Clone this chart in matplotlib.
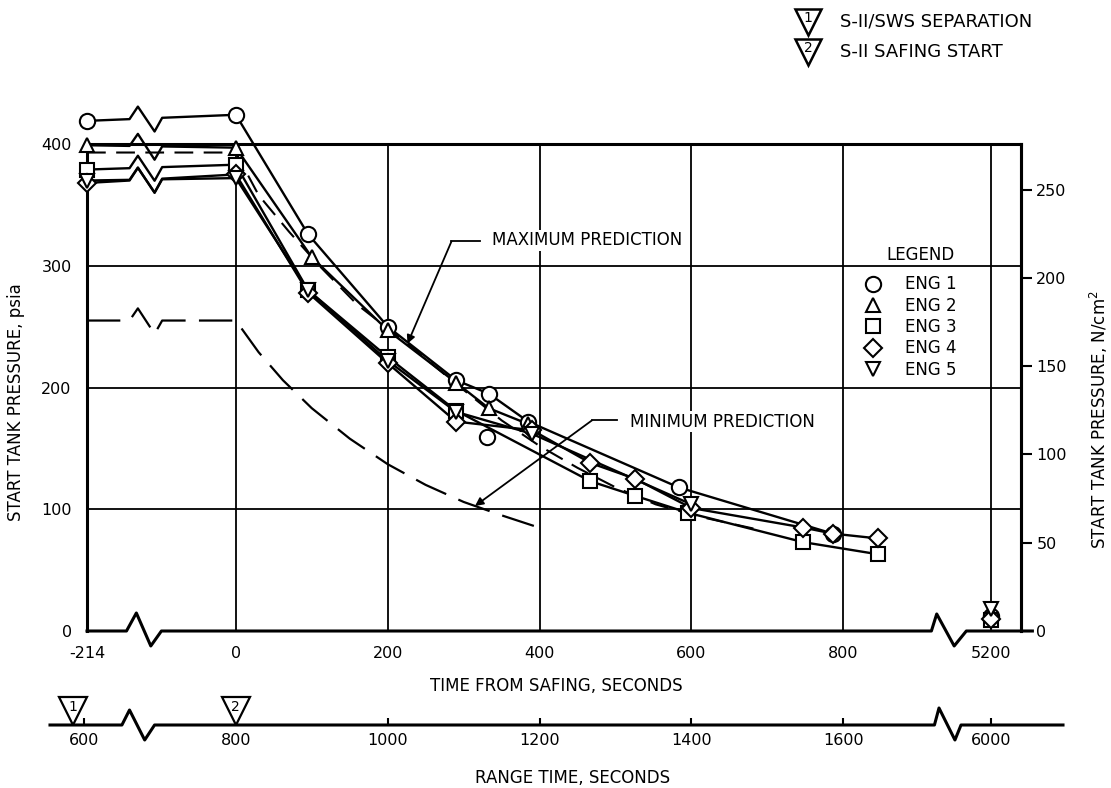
import numpy as np
import matplotlib
matplotlib.use('Agg')
import matplotlib.pyplot as plt
from matplotlib.lines import Line2D

# start tank pressure (psia) vs time from safing (s)
eng1_t = [-214, 0, 95, 200, 290, 333, 385, 583, 786]
eng1_p = [419, 424, 326, 250, 206, 195, 172, 118, 80]
eng2_t = [-214, 0, 100, 200, 290, 333, 385]
eng2_p = [399, 397, 307, 247, 204, 183, 170]
eng3_t = [-214, 0, 95, 200, 290, 467, 526, 596, 747, 846]
eng3_p = [379, 383, 280, 225, 181, 123, 111, 97, 73, 63]
eng4_t = [-214, 0, 95, 200, 290, 390, 467, 526, 600, 747, 786, 846]
eng4_p = [368, 375, 278, 220, 172, 165, 138, 125, 101, 85, 80, 76]
eng5_t = [-214, 0, 95, 200, 290, 390, 600]
eng5_p = [370, 372, 280, 222, 180, 162, 104]
# stray ENG 1 reading below the faired curve
eng1_extra_t = [331]
eng1_extra_p = [159]
# readings at T+5200 s (ENG 1..5)
late_t = 5200
late_p = [12, 15, 9, 10, 18]

# predictions
max_t = [-214, 0, 30, 70, 110, 160, 226, 290, 350, 400, 450, 500, 553, 610, 690]
max_p = [393, 393, 358, 328, 300, 268, 236, 203, 173, 152, 134, 118, 104, 94, 83]
min_t = [-214, 0, 30, 62, 100, 150, 200, 250, 300, 350, 394]
min_p = [255, 255, 229, 206, 183, 158, 137, 120, 106, 95, 86]

x_ticks = [-214, 0, 200, 400, 600, 800, 5200]
range_ticks = [600, 800, 1000, 1200, 1400, 1600, 6000]
sep_range = 586      # S-II/SWS separation, range time
safing_range = 800   # S-II safing start, range time
psia_per_ncm2 = 1.4504

eng_labels = ['ENG 1', 'ENG 2', 'ENG 3', 'ENG 4', 'ENG 5']
eng_markers = ['o', '^', 's', 'D', 'v']
eng_ms = [11, 10, 9.5, 8.8, 10]

U_LEFT, U_RIGHT = -196, 1034


def to_u(t):
    # broken time scale: -214..0 squeezed, 5200 pulled in after the break
    t = np.asarray(t, float)
    return np.where(t < 0, t * 196 / 214, np.where(t > 3000, t - 4206, t))


def range_u(r):
    r = np.asarray(r, float)
    t = r - 800
    return np.where(t < 0, t, to_u(t))


BRK_U = np.array([-140, -129, -107, -97.0])


def broken_line(t, p, rise=10, drop=11):
    u = to_u(t)
    p = np.asarray(p, float)
    bp = np.interp(BRK_U, u[:2], p[:2]) + np.array([0, rise, -drop, 0])
    return np.concatenate([u[:1], BRK_U, u[1:]]), np.concatenate([p[:1], bp, p[1:]])


plt.rcParams['font.family'] = ['DejaVu Sans']
fig = plt.figure(figsize=(11.11, 7.88), dpi=100)
ax = fig.add_axes([87 / 1111, 157 / 788, 934 / 1111, 487 / 788])
ax.set_xlim(U_LEFT, U_RIGHT)
ax.set_ylim(0, 400)

# grid
for t in [0, 200, 400, 600, 800, 5200]:
    ax.plot([to_u(t)] * 2, [0, 400], color='black', lw=1.3, zorder=1)
for p in [100, 200, 300]:
    ax.plot([U_LEFT, U_RIGHT], [p, p], color='black', lw=1.3, zorder=1)

# bottom axis line with break marks
bx = [U_LEFT, -144, -131, -112, -98, 916, 923, 946, 962, 1049]
by = [0, 0, 14.8, -12.3, 0, 0, 14, -12.3, 0, 0]
ax.plot(bx, by, color='black', lw=2.2, clip_on=False, zorder=5)
ax.spines['bottom'].set_visible(False)
for s in ['left', 'top', 'right']:
    ax.spines[s].set_linewidth(2.2)

# predictions
ux, py = broken_line(max_t, max_p, rise=0, drop=0)
ax.plot(ux, py, color='black', lw=1.5, dashes=(9, 5), clip_on=False, zorder=2)
ux, py = broken_line(min_t, min_p)
ax.plot(ux, py, color='black', lw=1.6, dashes=(15, 6), clip_on=False, zorder=2)

# engines
engines = [(eng1_t, eng1_p), (eng2_t, eng2_p), (eng3_t, eng3_p),
           (eng4_t, eng4_p), (eng5_t, eng5_p)]
for i, (t, p) in enumerate(engines):
    ux, py = broken_line(t, p)
    ax.plot(ux, py, color='black', lw=1.7, clip_on=False, zorder=3)
    mk = dict(ls='none', marker=eng_markers[i], ms=eng_ms[i], mfc='white',
              mec='black', mew=1.5, clip_on=False, zorder=4)
    ax.plot(to_u(t), p, **mk)
    ax.plot(to_u([late_t]), [late_p[i]], **mk)
ax.plot(to_u(eng1_extra_t), eng1_extra_p, ls='none', marker='o', ms=11,
        mfc='white', mec='black', mew=1.5, zorder=4)

# ticks
ax.set_xticks(to_u(x_ticks))
ax.set_xticklabels([str(v) for v in x_ticks])
ax.set_yticks([0, 100, 200, 300, 400])
ax.tick_params(axis='x', length=0, pad=11, labelsize=11.5)
ax.tick_params(axis='y', length=0, pad=11, labelsize=11.5)
ax.set_xlabel('TIME FROM SAFING, SECONDS', fontsize=12)
ax.xaxis.set_label_coords(0.503, -0.095)
ax.set_ylabel('START TANK PRESSURE, psia', fontsize=12)
ax.yaxis.set_label_coords(-0.066, 0.47)

sec = ax.secondary_yaxis('right', functions=(lambda p: p / psia_per_ncm2,
                                             lambda n: n * psia_per_ncm2))
sec.set_yticks([0, 50, 100, 150, 200, 250])
sec.tick_params(length=8, width=1.5, pad=3, labelsize=11.5)
sec.spines['right'].set_linewidth(2.2)
fig.text(1099 / 1111, 1 - 420 / 788, 'START TANK PRESSURE, N/cm$^{2}$', fontsize=12,
         rotation=90, ha='center', va='center')

# annotations
tb = dict(facecolor='white', edgecolor='none', pad=1)
ap = dict(arrowstyle='-|>', color='black', lw=1.3, mutation_scale=12,
          shrinkA=0, shrinkB=0)
ax.text(338, 321, 'MAXIMUM PREDICTION', fontsize=12, va='center', bbox=tb, zorder=6)
ax.plot([284, 321], [320, 320], color='black', lw=1.3, zorder=6)
ax.annotate('', xy=(226, np.interp(226, max_t, max_p)), xytext=(284, 320),
            arrowprops=ap, zorder=6)
ax.text(519, 172, 'MINIMUM PREDICTION', fontsize=12, va='center', bbox=tb, zorder=6)
ax.plot([469, 502], [173, 173], color='black', lw=1.3, zorder=6)
ax.annotate('', xy=(315, np.interp(315, min_t, min_p)), xytext=(469, 173),
            arrowprops=ap, zorder=6)

# legend
handles = [Line2D([], [], ls='none', marker=m, ms=s, mfc='white', mec='black', mew=1.5)
           for m, s in zip(eng_markers, eng_ms)]
ax.text(901, 309, 'LEGEND', fontsize=12, ha='center', va='center',
        bbox=dict(facecolor='white', edgecolor='none', pad=0))
ax.legend(handles, eng_labels, loc='upper left', bbox_to_anchor=(828, 292),
          bbox_transform=ax.transData, frameon=False, fontsize=12,
          handlelength=1.0, handletextpad=1.4, labelspacing=0.2, borderpad=0,
          borderaxespad=0)

# range time axis
RU_LEFT, RU_RIGHT = -244.7, 1089.3
ax2 = fig.add_axes([50 / 1111, 63 / 788, 1013 / 1111, 40 / 788])
ax2.set_xlim(RU_LEFT, RU_RIGHT)
ax2.set_ylim(0, 40)
ax2.patch.set_visible(False)
for s in ax2.spines.values():
    s.set_visible(False)
rx = [RU_LEFT, -150, -140, -120, -107, 920, 926, 947, 955, RU_RIGHT]
ry = [0, 0, 15, -15, 0, 0, 17, -15, 0, 0]
ax2.plot(rx, ry, color='black', lw=2.2, clip_on=False)
ax2.set_xticks(range_u(range_ticks))
ax2.set_xticklabels([str(v) for v in range_ticks])
ax2.set_yticks([])
ax2.tick_params(axis='x', direction='in', length=5, width=1.5, pad=6, labelsize=11.5)
for r, num in [(sep_range, '1'), (safing_range, '2')]:
    ax2.plot(range_u([r]), [14], ls='none', marker='v', ms=20.5, mfc='white',
             mec='black', mew=1.6, clip_on=False, zorder=5)
    ax2.text(float(range_u([r])[0]), 18, num, fontsize=10, ha='center',
             va='center', zorder=6)
fig.text(573 / 1111, 1 - 778 / 788, 'RANGE TIME, SECONDS', fontsize=12,
         ha='center', va='center')

# event key
for yk, num, label in [(22, '1', 'S-II/SWS SEPARATION'), (52, '2', 'S-II SAFING START')]:
    fig.add_artist(Line2D([808 / 1111], [1 - yk / 788], transform=fig.transFigure,
                          ls='none', marker='v', ms=19, mfc='white', mec='black',
                          mew=1.8))
    fig.text(808 / 1111, 1 - (yk - 4) / 788, num, fontsize=10, ha='center', va='center')
    fig.text(840 / 1111, 1 - yk / 788, label, fontsize=13, va='center')

fig.savefig('out.png', dpi=100)
